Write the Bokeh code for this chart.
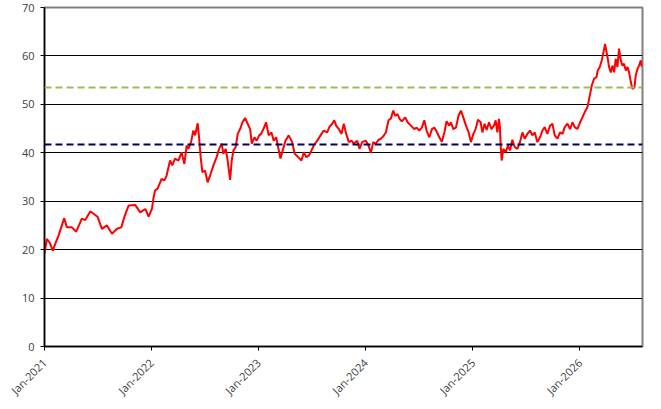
import math
import pandas as pd
from bokeh.plotting import figure
from bokeh.models import FixedTicker, DatetimeTickFormatter, Span, Range1d
from bokeh.embed import file_html
from bokeh.resources import INLINE

# ---- data ----
# time in years since 1 Jan 2021
years_since_2021 = [
    0.000, 0.022, 0.047, 0.078, 0.100, 0.131, 0.184, 0.209, 0.256, 0.296,
    0.349, 0.380, 0.427, 0.458, 0.495, 0.536, 0.583, 0.630, 0.677, 0.717,
    0.745, 0.785, 0.848, 0.894, 0.941, 0.972, 1.003, 1.016, 1.032, 1.056,
    1.093, 1.119, 1.140, 1.172, 1.193, 1.219, 1.250, 1.280, 1.306, 1.327,
    1.343, 1.368, 1.390, 1.406, 1.430, 1.443, 1.458, 1.474, 1.499, 1.523,
    1.546, 1.577, 1.607, 1.630, 1.654, 1.670, 1.692, 1.710, 1.733, 1.748,
    1.764, 1.785, 1.804, 1.826, 1.848, 1.873, 1.897, 1.920, 1.935, 1.960,
    1.981, 2.004, 2.022, 2.044, 2.069, 2.093, 2.119, 2.140, 2.163, 2.181,
    2.203, 2.224, 2.250, 2.280, 2.312, 2.336, 2.368, 2.399, 2.421, 2.443,
    2.467, 2.493, 2.514, 2.546, 2.577, 2.607, 2.639, 2.661, 2.686, 2.705,
    2.723, 2.748, 2.773, 2.794, 2.817, 2.841, 2.866, 2.888, 2.920, 2.941,
    2.966, 3.000, 3.025, 3.047, 3.069, 3.093, 3.119, 3.140, 3.163, 3.187,
    3.212, 3.234, 3.256, 3.275, 3.296, 3.318, 3.336, 3.368, 3.390, 3.421,
    3.452, 3.474, 3.499, 3.523, 3.546, 3.567, 3.593, 3.617, 3.639, 3.661,
    3.686, 3.710, 3.733, 3.754, 3.779, 3.794, 3.817, 3.841, 3.866, 3.888,
    3.910, 3.935, 3.960, 3.981, 4.004, 4.025, 4.047, 4.072, 4.088, 4.109,
    4.128, 4.150, 4.172, 4.196, 4.212, 4.228, 4.243, 4.252, 4.259, 4.268,
    4.284, 4.306, 4.327, 4.346, 4.368, 4.390, 4.415, 4.439, 4.462, 4.483,
    4.508, 4.533, 4.555, 4.577, 4.602, 4.626, 4.649, 4.670, 4.695, 4.720,
    4.742, 4.764, 4.789, 4.813, 4.836, 4.857, 4.882, 4.907, 4.929, 4.950,
    4.975, 5.000, 5.022, 5.044, 5.069, 5.091, 5.109, 5.131, 5.153, 5.165,
    5.184, 5.203, 5.219, 5.234, 5.247, 5.259, 5.271, 5.287, 5.303, 5.318,
    5.333, 5.349, 5.364, 5.380, 5.396, 5.411, 5.427, 5.443, 5.458, 5.474,
    5.489, 5.508, 5.520, 5.536, 5.551, 5.567, 5.576,
]
values = [
    19.2, 22.2, 21.5, 19.8, 21.2, 22.9, 26.5, 24.6, 24.6, 23.7,
    26.4, 26.1, 27.9, 27.4, 26.8, 24.3, 25.0, 23.3, 24.3, 24.6,
    26.7, 29.1, 29.2, 27.7, 28.4, 26.8, 28.4, 30.5, 32.2, 32.6,
    34.6, 34.3, 35.3, 38.4, 37.4, 38.8, 38.4, 40.1, 37.7, 41.5,
    40.8, 42.2, 44.6, 43.6, 46.1, 43.2, 39.1, 36.0, 36.3, 33.9,
    35.3, 37.4, 39.1, 40.8, 41.9, 39.8, 40.8, 38.4, 34.4, 38.4,
    40.5, 41.2, 43.9, 44.9, 46.3, 47.2, 46.0, 44.9, 41.9, 43.2,
    42.5, 43.6, 43.9, 44.9, 46.3, 43.6, 44.2, 42.5, 43.2, 41.2,
    38.8, 40.5, 42.5, 43.6, 42.2, 39.8, 39.1, 38.4, 40.1, 39.1,
    39.4, 40.5, 41.5, 42.5, 43.6, 44.6, 44.2, 45.4, 46.0, 46.7,
    45.6, 44.9, 43.9, 46.0, 43.9, 42.2, 42.5, 41.9, 42.5, 40.8,
    42.2, 42.5, 41.5, 40.0, 42.2, 41.9, 42.7, 42.9, 43.4, 44.2,
    46.7, 47.1, 48.7, 47.6, 48.0, 46.9, 46.5, 47.3, 46.3, 45.6,
    44.9, 45.2, 44.6, 45.2, 46.7, 44.6, 43.2, 44.9, 45.2, 44.4,
    43.2, 42.3, 44.2, 46.5, 45.6, 46.3, 44.9, 45.2, 47.7, 48.7,
    47.3, 45.6, 44.2, 42.2, 43.9, 44.9, 46.8, 46.3, 44.2, 46.0,
    44.7, 46.3, 44.9, 45.6, 46.7, 44.2, 47.0, 45.3, 41.5, 38.4,
    40.8, 40.1, 41.5, 40.5, 42.7, 41.2, 40.8, 42.2, 44.2, 42.9,
    43.9, 44.6, 43.6, 44.2, 42.2, 43.2, 44.6, 45.3, 43.9, 45.6,
    46.0, 43.6, 42.9, 44.2, 43.9, 45.3, 46.0, 44.9, 46.3, 45.3,
    44.9, 46.3, 47.3, 48.4, 49.4, 51.8, 53.9, 55.3, 55.6, 57.0,
    57.7, 59.1, 60.8, 62.5, 60.8, 59.4, 57.7, 56.6, 58.0, 56.6,
    59.4, 57.7, 61.5, 59.1, 58.0, 58.4, 57.0, 57.7, 56.6, 54.6,
    53.2, 53.5, 56.0, 57.3, 58.0, 59.1, 57.8,
]
reference_levels = [41.7, 53.5]
reference_colors = ["#000066", "#9BBB59"]
y_ticks = [0, 10, 20, 30, 40, 50, 60, 70]
grid_levels = [10, 20, 30, 40, 50, 60]
tick_years = [2021, 2022, 2023, 2024, 2025, 2026]
x_end_years = 5.583

base = pd.Timestamp("2021-01-01")


def to_date(t):
    return base + pd.to_timedelta(t * 365.25, unit="D")


dates = [to_date(t) for t in years_since_2021]
tick_ms = [pd.Timestamp(f"{y}-01-01").value / 1e6 for y in tick_years]
x_start = base.value / 1e6
x_end = to_date(x_end_years).value / 1e6

FONT = "Open Sans"
LABEL_COLOR = "#404040"

p = figure(
    width=653, height=405,
    x_axis_type="datetime",
    x_range=Range1d(x_start, x_end),
    y_range=Range1d(0, 70),
    output_backend="svg",
    toolbar_location=None,
    min_border_left=44, min_border_right=11,
    min_border_top=7, min_border_bottom=59,
)
p.background_fill_color = "white"
p.border_fill_color = "white"
p.outline_line_color = "#808080"
p.outline_line_width = 2

# grid
p.xgrid.grid_line_color = None
p.ygrid.ticker = FixedTicker(ticks=grid_levels)
p.ygrid.grid_line_color = "black"
p.ygrid.grid_line_width = 1

# axes
for ax in (p.xaxis[0], p.yaxis[0]):
    ax.axis_line_color = "black"
    ax.axis_line_width = 1.5
    ax.major_tick_line_color = "black"
    ax.major_tick_in = 0
    ax.major_tick_out = 4
    ax.minor_tick_line_color = None
    ax.major_label_text_font = FONT
    ax.major_label_text_font_size = "11px"
    ax.major_label_text_color = LABEL_COLOR

p.yaxis.ticker = FixedTicker(ticks=y_ticks)
p.yaxis.major_label_standoff = 6

p.xaxis.ticker = FixedTicker(ticks=tick_ms)
p.xaxis.formatter = DatetimeTickFormatter(
    years="%b-%Y", months="%b-%Y", days="%b-%Y", hours="%b-%Y",
    minutes="%b-%Y", seconds="%b-%Y", milliseconds="%b-%Y",
)
p.xaxis.major_label_orientation = math.pi / 4
p.xaxis.major_label_standoff = 10

# reference dashed lines
for lvl, col in zip(reference_levels, reference_colors):
    p.add_layout(Span(location=lvl, dimension="width", line_color=col,
                      line_width=2, line_dash="7 4"))

# main series
p.line(dates, values, line_color="#FF0000", line_width=2)

open("out.html", "w").write(file_html(p, INLINE))
